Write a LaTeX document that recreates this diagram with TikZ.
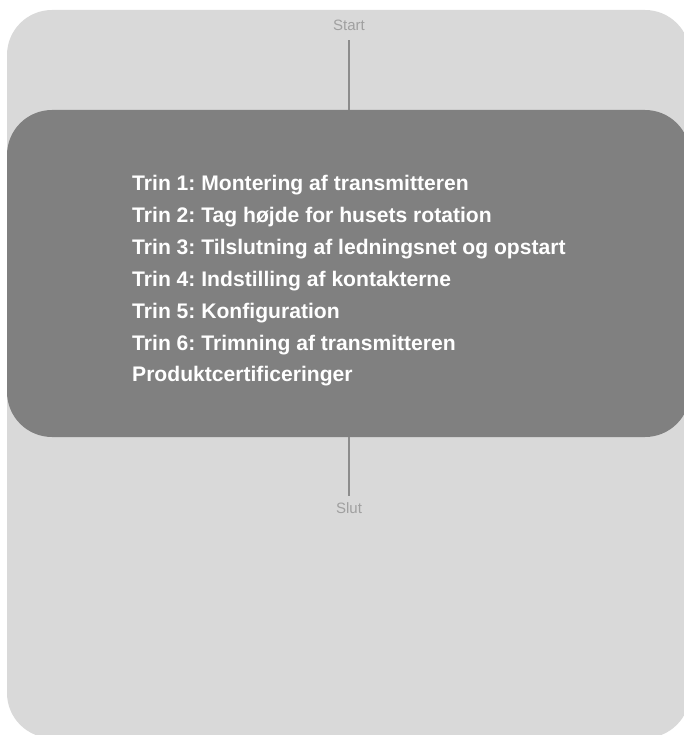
\documentclass[tikz,border=0pt]{standalone}
\usepackage{fontspec}
\setmainfont{Liberation Sans}
\usepackage{xcolor}
\usetikzlibrary{positioning,calc}

\definecolor{framegray}{HTML}{D9D9D9}
\definecolor{panelgray}{HTML}{808080}
\definecolor{linkgray}{HTML}{8C8C8C}
\definecolor{taggray}{HTML}{A0A0A0}
\frenchspacing

\begin{document}
\begin{tikzpicture}[
    x=1pt, y=-1pt,
    frame/.style={rectangle, fill=framegray, rounded corners=45pt, inner sep=0pt},
    panel/.style={rectangle, fill=panelgray, rounded corners=45pt, inner sep=0pt},
    tag/.style={inner sep=0pt, text=taggray, font=\fontsize{15}{18}\selectfont},
    stepline/.style={anchor=base west, inner sep=0pt, text=white, font=\fontsize{21.1}{25}\selectfont\bfseries},
    link/.style={draw=linkgray, line width=2.3pt}
]

\useasboundingbox (0,0) rectangle (684,735);

% ── Background card ──
\node[frame, minimum width=683pt, minimum height=728pt] (card) at (348.5, 374) {};

% ── Central block ──
\node[panel, minimum width=683pt, minimum height=327pt] (panel) at (348.5, 273.5) {};

% ── Start / end labels ──
\node[tag, anchor=base] (start) at (349, 31) {Start};
\node[tag, anchor=base] (slut) at (349, 513) {Slut};

% ── Step list ──
\foreach \txt [count=\i] in {Trin 1: Montering af transmitteren,
                             Trin 2: Tag højde for husets rotation,
                             Trin 3: Tilslutning af ledningsnet og opstart,
                             Trin 4: Indstilling af kontakterne,
                             Trin 5: Konfiguration,
                             Trin 6: Trimning af transmitteren,
                             Produktcertificeringer}
  \node[stepline] (step\i) at (132, {191+31.8*(\i-1)}) {\txt};

% ═════════════════════════════
% CONNECTORS
% ═════════════════════════════

% Start → block
\draw[link, shorten <=9pt] (start.south) -- (start.south |- panel.north);

% block → Slut
\draw[link, shorten >=6pt] (slut.north |- panel.south) -- (slut.north);

\end{tikzpicture}
\end{document}
